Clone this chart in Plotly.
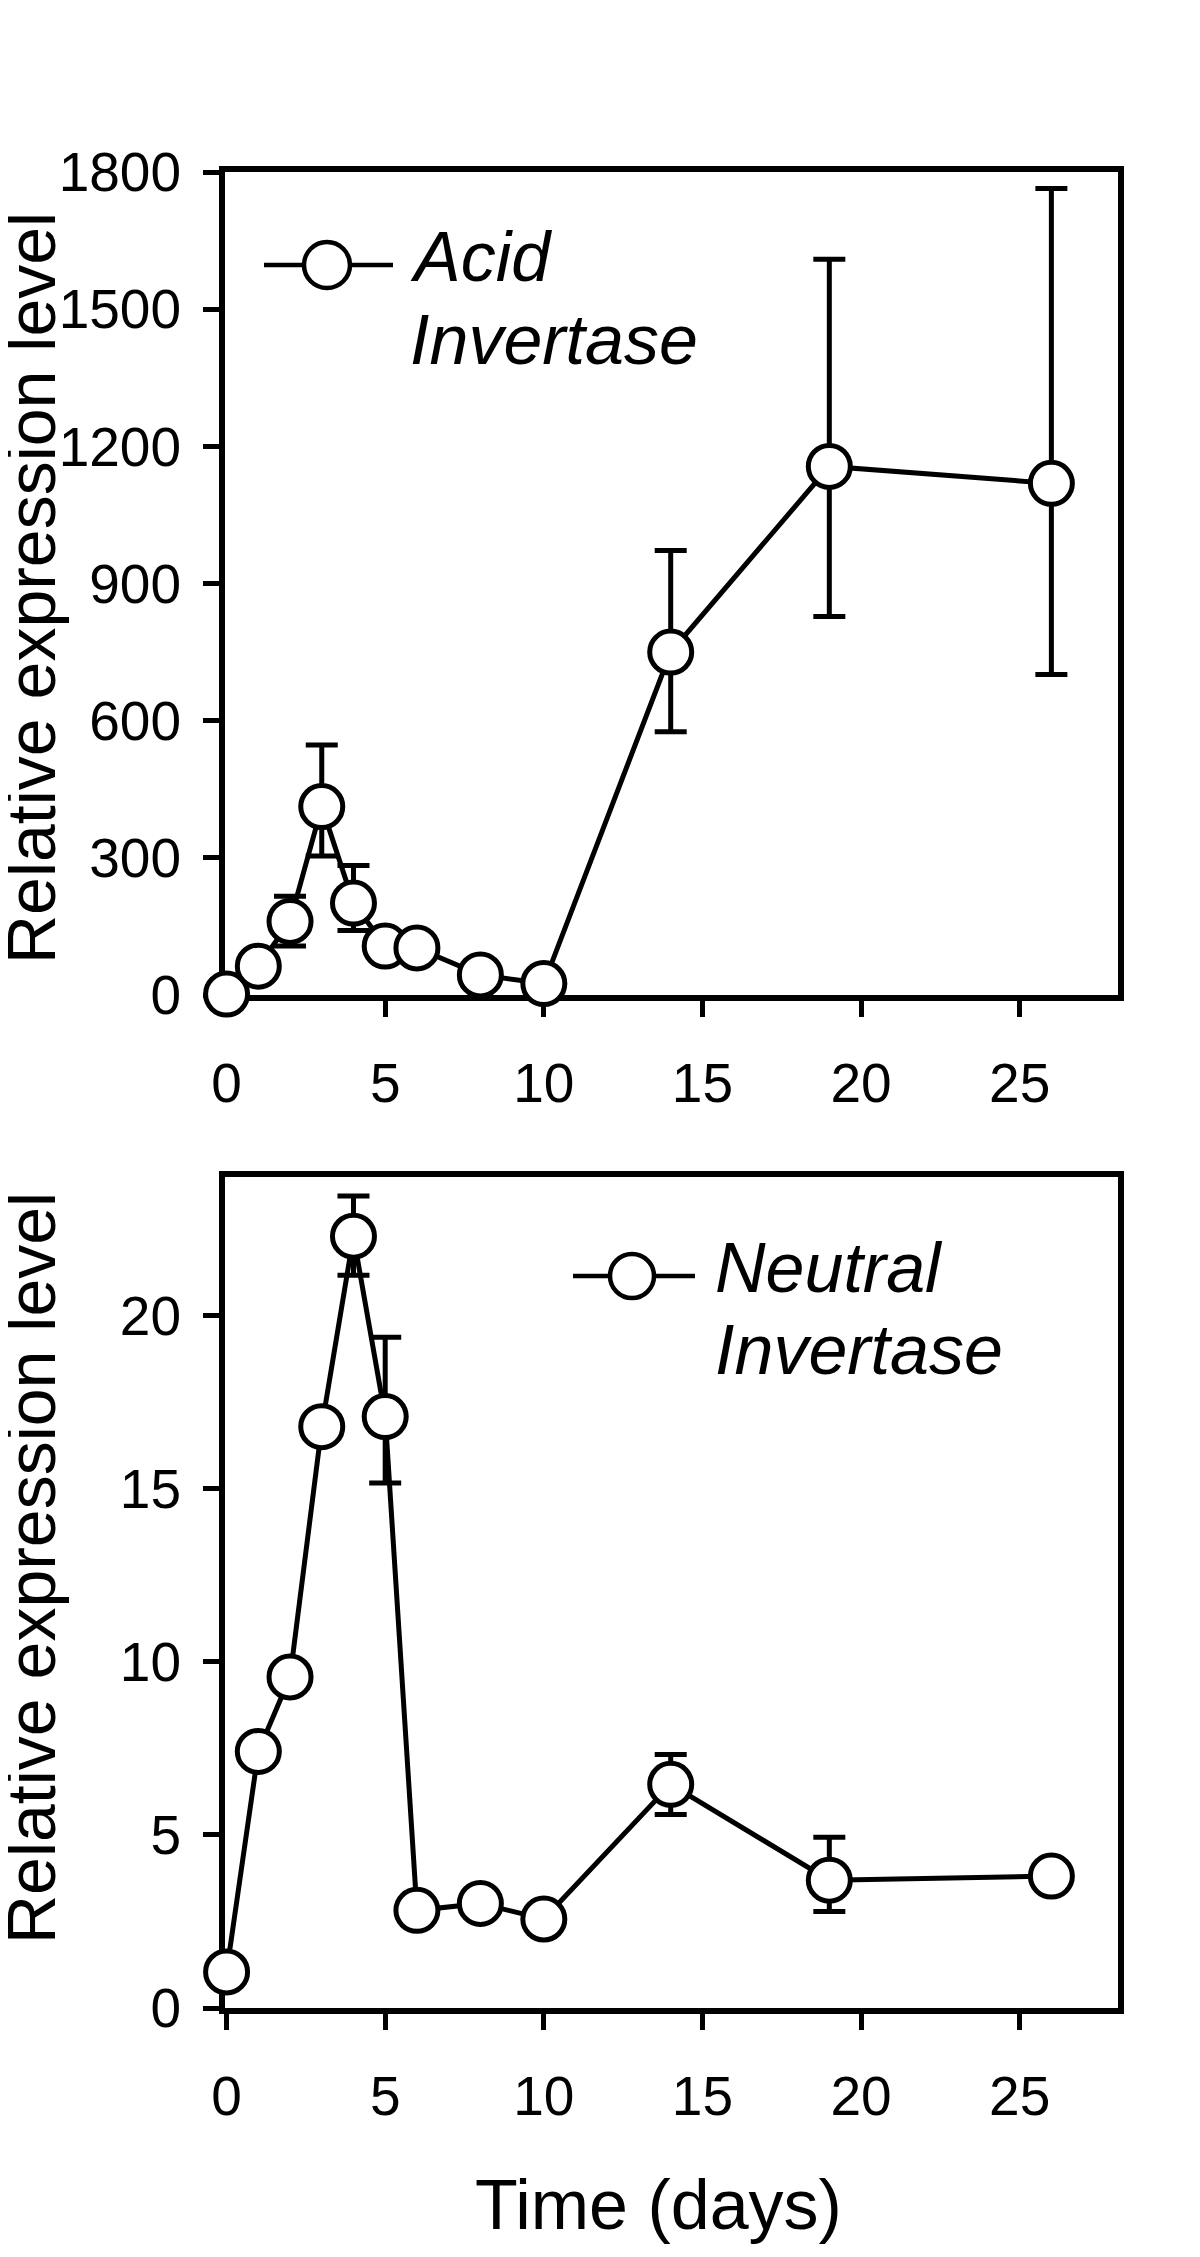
import plotly.graph_objects as go

# ---- data ----
days = [0, 1, 2, 3, 4, 5, 6, 8, 10, 14, 19, 26]

acid = [2, 63, 161, 412, 201, 107, 103, 44, 25, 750, 1156, 1119]
acid_err_plus = [0, 0, 55, 135, 82, 0, 0, 0, 0, 222, 453, 645]
acid_err_minus = [0, 0, 54, 108, 60, 0, 0, 0, 0, 174, 328, 418]

neutral = [1.04, 7.41, 9.56, 16.79, 22.29, 17.08, 2.82, 3.02, 2.57, 6.46, 3.69, 3.81]
neutral_err_plus = [0, 0, 0, 0, 1.16, 2.29, 0, 0, 0, 0.86, 1.24, 0]
neutral_err_minus = [0, 0, 0, 0, 1.13, 1.92, 0, 0, 0, 0.87, 0.90, 0]

x_ticks = [0, 5, 10, 15, 20, 25]
acid_ticks = [0, 300, 600, 900, 1200, 1500, 1800]
neutral_ticks = [0, 5, 10, 15, 20]

# page is 1200x2257; the html body has an 8px margin
OFF = 8
W, H = 1200 - 2 * OFF, 2257 - 2 * OFF
FONT = "Liberation Sans, Arial, sans-serif"


def px(x):
    """page pixel x -> paper fraction"""
    return (x - OFF) / W


def py(y):
    """page pixel y -> paper fraction"""
    return (H - (y - OFF)) / H


fig = go.Figure()


def add_series(x, y, ep, em, xa, ya):
    fig.add_trace(go.Scatter(
        x=x, y=y, mode="lines", xaxis=xa, yaxis=ya,
        line=dict(color="black", width=5),
        error_y=dict(type="data", symmetric=False, array=ep, arrayminus=em,
                     color="black", thickness=5, width=16),
        cliponaxis=False, showlegend=False, hoverinfo="skip"))
    fig.add_trace(go.Scatter(
        x=x, y=y, mode="markers", xaxis=xa, yaxis=ya,
        marker=dict(symbol="circle", size=42, color="white",
                    line=dict(color="black", width=5)),
        cliponaxis=False, showlegend=False))


add_series(days, acid, acid_err_plus, acid_err_minus, "x", "y")
add_series(days, neutral, neutral_err_plus, neutral_err_minus, "x2", "y2")

axis_common = dict(
    showline=True, mirror=True, linecolor="black", linewidth=6,
    ticks="outside", ticklen=16, tickwidth=5, tickcolor="black",
    showgrid=False, zeroline=False, layer="below traces", automargin=False,
    tickfont=dict(family=FONT, size=55, color="black"),
)

xdom = [px(225), px(1118)]

fig.update_layout(
    width=W, height=H, autosize=False,
    margin=dict(l=0, r=0, t=0, b=0),
    paper_bgcolor="white", plot_bgcolor="white",
    showlegend=False,
    xaxis=dict(domain=xdom, anchor="y", range=[-0.05, 28.1],
               tickvals=x_ticks, ticklabelstandoff=19, **axis_common),
    yaxis=dict(domain=[py(995), py(172)], anchor="x", range=[0, 1800],
               tickvals=acid_ticks, ticklabelstandoff=11, **axis_common),
    xaxis2=dict(domain=xdom, anchor="y2", range=[-0.05, 28.1],
                tickvals=x_ticks, ticklabelstandoff=19, **axis_common),
    yaxis2=dict(domain=[py(2008), py(1177)], anchor="x2", range=[0, 24],
                tickvals=neutral_ticks, ticklabelstandoff=11, **axis_common),
)

# ---- legend-like keys (shapes + text) ----
shapes = []
annotations = []


def legend_key(x0, x1, yc, cx, d, line1, line2, tx, ty1, ty2):
    shapes.append(dict(type="line", xref="paper", yref="paper",
                       x0=px(x0), x1=px(x1), y0=py(yc), y1=py(yc),
                       line=dict(color="black", width=4.5)))
    shapes.append(dict(type="circle", xref="paper", yref="paper",
                       x0=px(cx - d / 2), x1=px(cx + d / 2),
                       y0=py(yc + d / 2), y1=py(yc - d / 2),
                       fillcolor="white", line=dict(color="black", width=4.5)))
    for txt, ty in ((line1, ty1), (line2, ty2)):
        annotations.append(dict(
            text="<i>%s</i>" % txt, xref="paper", yref="paper",
            x=px(tx), y=py(ty), xanchor="left", yanchor="middle",
            showarrow=False,
            font=dict(family=FONT, size=70, color="black")))


legend_key(264, 393, 265, 327, 46, "Acid", "Invertase", 408, 257, 340)
legend_key(573, 695, 1276, 632, 44, "Neutral", "Invertase", 713, 1268, 1350)

for yc in (588, 1568):
    annotations.append(dict(
        text="Relative expression level", xref="paper", yref="paper",
        x=px(31), y=py(yc), xanchor="center", yanchor="middle",
        textangle=-90, showarrow=False,
        font=dict(family=FONT, size=68, color="black")))

annotations.append(dict(
    text="Time (days)", xref="paper", yref="paper",
    x=px(659), y=py(2205), xanchor="center", yanchor="middle",
    showarrow=False, font=dict(family=FONT, size=70, color="black")))

fig.update_layout(shapes=shapes, annotations=annotations)

fig.write_html("out.html")
